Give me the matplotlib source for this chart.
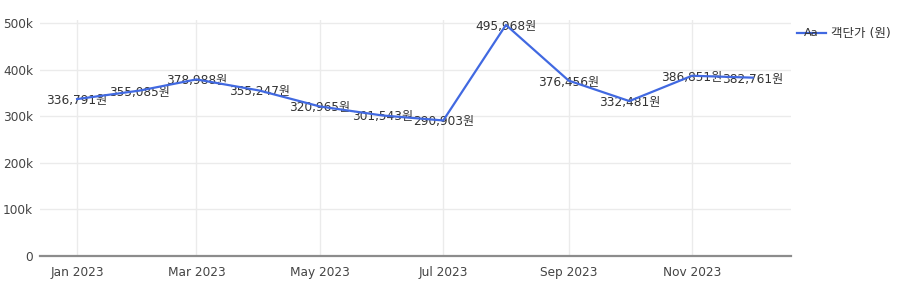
import matplotlib
matplotlib.use("Agg")
import matplotlib.pyplot as plt
import matplotlib.dates as mdates
import matplotlib.transforms as mtransforms
from matplotlib.lines import Line2D
import datetime as dt

plt.rcParams['font.family'] = ['DejaVu Sans', 'Noto Sans CJK KR']

months = ["2023-01-01", "2023-02-01", "2023-03-01", "2023-04-01", "2023-05-01", "2023-06-01",
          "2023-07-01", "2023-08-01", "2023-09-01", "2023-10-01", "2023-11-01", "2023-12-01"]
values = [336791, 355085, 378988, 355247, 320965, 301543,
          290903, 495968, 376456, 332481, 386851, 382761]
series_name = "객단가 (원)"
tick_dates = ["2023-01-01", "2023-03-01", "2023-05-01", "2023-07-01", "2023-09-01", "2023-11-01"]
y_ticks = [0, 100000, 200000, 300000, 400000, 500000]
y_tick_labels = ["0", "100k", "200k", "300k", "400k", "500k"]

W, H = 898, 281
fig = plt.figure(figsize=(W / 100, H / 100), dpi=100)
ax = fig.add_axes([40 / W, (H - 256) / H, (791 - 40) / W, (256 - 20) / H])

dates = [dt.datetime.strptime(m, "%Y-%m-%d") for m in months]
color = "#4169E1"
fs = 8.7
text_color = "#333333"

ax.plot(dates, values, color=color, lw=1.6, zorder=3)
offset = mtransforms.offset_copy(ax.transData, fig=fig, x=0, y=-1.5, units="dots")
for d, v in zip(dates, values):
    ax.text(d, v, f"{v:,}원", ha="center", va="center", fontsize=fs, color=text_color,
            zorder=2, transform=offset)

ax.set_xlim(dt.datetime(2022, 12, 13, 16), dt.datetime(2023, 12, 19, 22))
ax.set_ylim(0, 506500)

ax.set_xticks([dt.datetime.strptime(t, "%Y-%m-%d") for t in tick_dates])
ax.xaxis.set_major_formatter(mdates.DateFormatter("%b %Y"))
ax.set_yticks(y_ticks)
ax.set_yticklabels(y_tick_labels)
ax.tick_params(axis="both", length=0, labelsize=fs, colors="#444444")
ax.tick_params(axis="x", pad=7)
ax.tick_params(axis="y", pad=5)
ax.grid(True, color="#ebebeb", lw=1)
ax.set_axisbelow(True)
for s in ["top", "right", "left"]:
    ax.spines[s].set_visible(False)
ax.spines["bottom"].set_color("#8c8c8c")
ax.spines["bottom"].set_linewidth(1.6)
ax.spines["bottom"].set_zorder(5)

# legend
ly = 1 - 33 / H
fig.text(811.5 / W, ly, "Aa", ha="center", va="center", fontsize=fs - 0.5, color=text_color)
fig.add_artist(Line2D([797 / W, 826 / W], [ly, ly], color=color, lw=1.6, transform=fig.transFigure))
fig.text(831 / W, ly, series_name, ha="left", va="center", fontsize=9, color=text_color)

fig.savefig("out.png", dpi=100, facecolor="white")
